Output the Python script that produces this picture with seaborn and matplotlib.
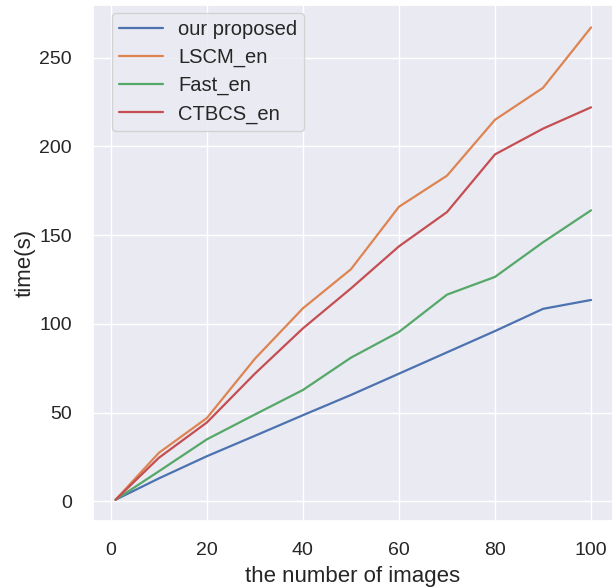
import pandas as pd
import matplotlib.pyplot as plt
import seaborn as sns

# values
n_images = [1, 10, 20, 30, 40, 50, 60, 70, 80, 90, 100]
our_proposed = [1, 13, 25.5, 37, 48.6, 60, 72, 84, 96, 108.5, 113.5]
lscm_en = [1, 27.4, 47, 80.4, 108.8, 130.8, 166, 183.5, 215, 233, 267]
fast_en = [1, 17, 35, 49, 62.8, 81, 95.5, 116.5, 126.5, 146, 164]
ctbcs_en = [1, 24.6, 44.5, 72, 97.5, 120, 143.7, 163, 195.5, 210, 222]

df = pd.DataFrame({
    'n': n_images,
    'our proposed': our_proposed,
    'LSCM_en': lscm_en,
    'Fast_en': fast_en,
    'CTBCS_en': ctbcs_en,
})
long_df = df.melt(id_vars='n', var_name='method', value_name='time')

sns.set_theme(style='darkgrid')
plt.rcParams['font.family'] = ['Liberation Sans', 'DejaVu Sans']

fig = plt.figure(figsize=(6.15, 5.87), dpi=100)
ax = fig.add_axes([0.151, 0.1124, 0.846, 0.879])
sns.lineplot(data=long_df, x='n', y='time', hue='method', ax=ax, linewidth=1.6)

ax.set_xlim(-3.74, 104.6)
ax.set_ylim(-11, 279.6)
ax.set_xticks([0, 20, 40, 60, 80, 100])
ax.set_yticks([0, 50, 100, 150, 200, 250])
ax.tick_params(axis='y', labelsize=14, length=0, pad=15)
ax.tick_params(axis='x', labelsize=14, length=0, pad=15)
ax.set_xlabel('the number of images', fontsize=16, labelpad=5)
ax.set_ylabel('time(s)', fontsize=16, labelpad=3)
ax.legend(title=None, fontsize=14.5, loc='upper left',
          bbox_to_anchor=(111.7 / 615, 1 - 12.7 / 587),
          bbox_transform=fig.transFigure, borderaxespad=0,
          handlelength=2.2, handletextpad=0.75, borderpad=0.35,
          labelspacing=0.45)

plt.savefig('out.png', dpi=100)
